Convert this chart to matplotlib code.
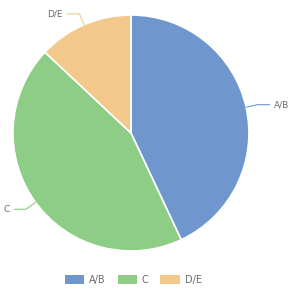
import numpy as np
import matplotlib
matplotlib.use("Agg")
import matplotlib.pyplot as plt
from matplotlib.patches import Patch

labels = ["A/B", "C", "D/E"]
values = [43, 44, 13]
colors = ["#6f97cd", "#8dcd86", "#f3c88b"]

text_color = "#6b6b6b"


def main():
    fig = plt.figure(figsize=(2.88, 2.90), dpi=100)
    ax = fig.add_axes([0, 0, 1, 1])

    wedges, _ = ax.pie(
        values,
        colors=colors,
        startangle=90,
        counterclock=False,
        radius=1.0,
        wedgeprops=dict(edgecolor="white", linewidth=1.2),
    )
    # pie() resets the limits, so set them afterwards
    ax.set_xlim(-1.110, 1.331)
    ax.set_ylim(-1.331, 1.127)
    ax.set_aspect("equal", adjustable="datalim")
    ax.axis("off")

    # leader lines, echarts style: short radial piece then horizontal
    for w, lab, col in zip(wedges, labels, colors):
        mid = np.deg2rad((w.theta1 + w.theta2) / 2)
        x0, y0 = np.cos(mid), np.sin(mid)
        x1, y1 = 1.1 * x0, 1.1 * y0
        side = 1 if x0 > 0 else -1
        x2 = x1 + side * 0.1
        ax.plot([x0, x1, x2], [y0, y1, y1], color=col, lw=0.8,
                solid_capstyle="round", solid_joinstyle="round", clip_on=False)
        ax.text(x2 + side * 0.04, y1, lab, ha="left" if side > 0 else "right",
                va="center", fontsize=6.5, color=text_color)

    handles = [Patch(facecolor=c, edgecolor="none") for c in colors]
    fig.legend(
        handles,
        labels,
        loc="center",
        bbox_to_anchor=(0.463, 0.035),
        ncol=3,
        frameon=False,
        fontsize=7,
        handlelength=2.0,
        handleheight=0.9,
        handletextpad=0.5,
        columnspacing=1.2,
        labelcolor=text_color,
    )

    fig.savefig("out.png", dpi=100, facecolor="white")


if __name__ == "__main__":
    main()
